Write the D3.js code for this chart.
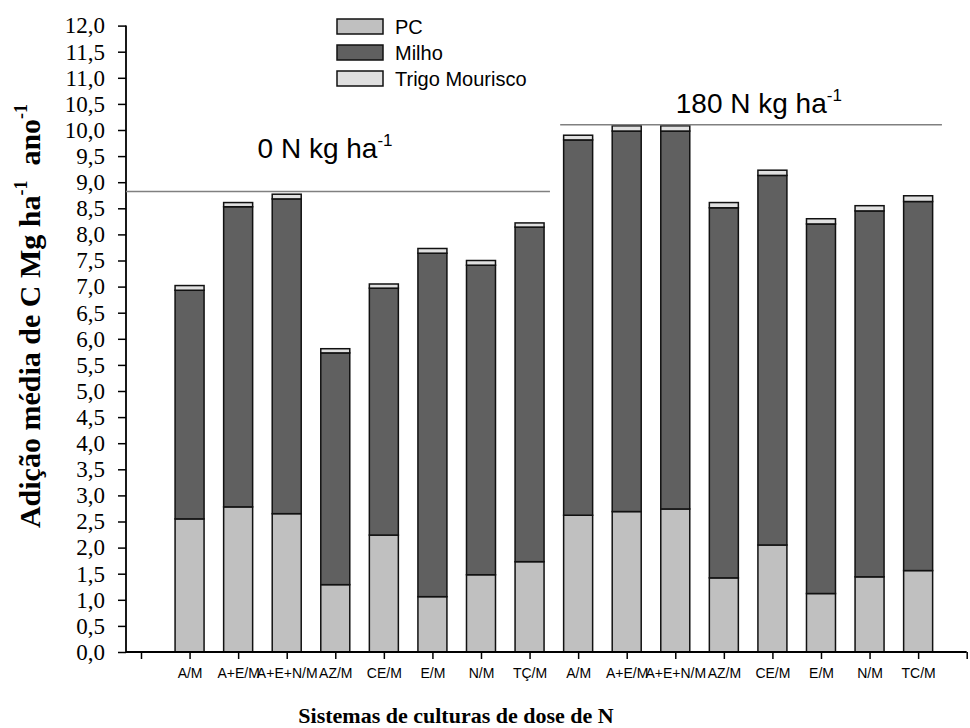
<!DOCTYPE html>
<html>
<head>
<meta charset="utf-8">
<script src="https://cdn.jsdelivr.net/npm/d3@7"></script>
<style>
  html, body { margin: 0; padding: 0; background: #fff; }
  svg { display: block; }
</style>
</head>
<body>
<svg id="chart" width="970" height="728"></svg>
<script>
// ---- data ----
const categories = ["A/M","A+E/M","A+E+N/M","AZ/M","CE/M","E/M","N/M","TÇ/M",
                    "A/M","A+E/M","A+E+N/M","AZ/M","CE/M","E/M","N/M","TC/M"];
const pcValues    = [2.55,2.78,2.65,1.29,2.24,1.06,1.48,1.73, 2.62,2.69,2.74,1.42,2.05,1.12,1.44,1.56];
const milhoValues = [4.38,5.75,6.03,4.44,4.73,6.58,5.93,6.41, 7.19,7.29,7.24,7.09,7.08,7.08,7.01,7.07];
const trigoValues = [0.09,0.08,0.09,0.08,0.08,0.09,0.09,0.08, 0.09,0.10,0.10,0.10,0.10,0.10,0.10,0.11];
const seriesNames = ["PC","Milho","Trigo Mourisco"];
const yTickValues = d3.range(0, 12.01, 0.5);
const groupLevels = [8.82, 10.10];
const groupLabels = ["0 N kg ha", "180 N kg ha"];

// ---- layout ----
const svg = d3.select("#chart");
const colors = ["#c0c0c0", "#606060", "#e0e0e0"];
const x = d3.scaleLinear().domain([0, 17]).range([141, 966.7]);
const y = d3.scaleLinear().domain([0, 12]).range([652, 25.6]);
const barW = 29;
const SERIF = "'Liberation Serif', 'Times New Roman', serif";
const SANS = "'Liberation Sans', Arial, sans-serif";

const rows = categories.map((c, i) => ({
  i, cat: c, PC: pcValues[i], Milho: milhoValues[i], "Trigo Mourisco": trigoValues[i]
}));
const stacked = d3.stack().keys(seriesNames)(rows);

// bars
svg.append("g").selectAll("g").data(stacked).join("g")
  .attr("fill", (d, k) => colors[k])
  .selectAll("rect").data(d => d).join("rect")
  .attr("x", d => x(d.data.i + 1) - barW / 2)
  .attr("width", barW)
  .attr("y", d => y(d[1]))
  .attr("height", d => y(d[0]) - y(d[1]))
  .attr("stroke", "#111")
  .attr("stroke-width", 1.5);

// y axis
const yAxis = svg.append("g").attr("transform", "translate(126,0)")
  .call(d3.axisLeft(y).tickValues(yTickValues).tickSize(8).tickPadding(13)
    .tickFormat(d => d3.format(".1f")(d).replace(".", ",")));
yAxis.attr("font-family", null).attr("font-size", null);
yAxis.select(".domain").attr("stroke", "#000").attr("stroke-width", 1.8).attr("d", `M0,${y(12)}V${y(0)}`);
yAxis.selectAll(".tick line").attr("stroke", "#000").attr("stroke-width", 1.5);
yAxis.selectAll(".tick text").style("font-family", SERIF)
  .style("font-size", "23px").attr("fill", "#000");

// x axis
const xAxis = svg.append("g").attr("transform", `translate(0,${y(0)})`)
  .call(d3.axisBottom(x).tickValues(d3.range(0, 18)).tickSize(7).tickPadding(9)
    .tickFormat(d => (d >= 1 && d <= 16) ? categories[d - 1] : ""));
xAxis.attr("font-family", null).attr("font-size", null);
xAxis.select(".domain").attr("stroke", "#000").attr("stroke-width", 1.8).attr("d", `M126,0H${x(17)}`);
xAxis.selectAll(".tick line").attr("stroke", "#000").attr("stroke-width", 1.5);
xAxis.selectAll(".tick text").style("font-family", SANS)
  .style("font-size", "14px").attr("fill", "#000");

// group reference lines
const lineSpans = [[126, x(8.42)], [x(8.63), x(16.49)]];
svg.append("g").selectAll("line").data(groupLevels).join("line")
  .attr("x1", (d, k) => lineSpans[k][0]).attr("x2", (d, k) => lineSpans[k][1])
  .attr("y1", d => y(d)).attr("y2", d => y(d))
  .attr("stroke", "#808080").attr("stroke-width", 1.5);

// group labels
const labelPos = [[x(3.79), y(9.46)], [x(12.72), y(10.32)]];
groupLabels.forEach((t, k) => {
  const txt = svg.append("text")
    .attr("x", labelPos[k][0]).attr("y", labelPos[k][1])
    .attr("text-anchor", "middle")
    .style("font-family", SANS)
    .style("font-size", "28px").attr("fill", "#000");
  txt.append("tspan").text(t);
  txt.append("tspan").style("font-size", "17px").attr("dy", -12).text("-1");
});

// legend
const legend = svg.append("g").attr("transform", "translate(337,19)");
seriesNames.forEach((s, k) => {
  const g = legend.append("g").attr("transform", `translate(0,${k * 26})`);
  g.append("rect").attr("width", 46).attr("height", 15)
    .attr("fill", colors[k]).attr("stroke", "#111").attr("stroke-width", 1.5);
  g.append("text").attr("x", 58).attr("y", 7.5).attr("dy", "0.36em")
    .style("font-family", SANS)
    .style("font-size", "20px").attr("fill", "#000").text(s);
});

// y axis title
const yt = svg.append("text")
  .attr("transform", "translate(40,316) rotate(-90)")
  .attr("text-anchor", "middle")
  .style("font-family", SERIF)
  .style("font-weight", "bold").style("font-size", "30px").attr("fill", "#000");
yt.append("tspan").text("Adição média de C Mg ha");
yt.append("tspan").style("font-size", "18px").attr("dy", -13).text("-1");
yt.append("tspan").attr("dy", 13).text("\u00a0 ano");
yt.append("tspan").style("font-size", "18px").attr("dy", -13).text("-1");

// x axis title
svg.append("text").attr("x", 456).attr("y", 723)
  .attr("text-anchor", "middle")
  .style("font-family", SERIF)
  .style("font-weight", "bold").style("font-size", "22px").attr("fill", "#000")
  .text("Sistemas de culturas de dose de N");
</script>
</body>
</html>
